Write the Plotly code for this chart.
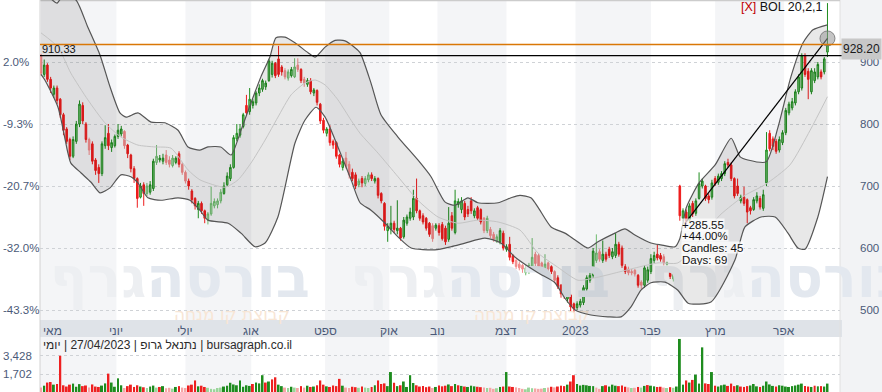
import plotly.graph_objects as go

# ---------------- data ----------------
open_ = [911, 880, 895, 872, 848, 858, 840, 815, 792, 775,
         748, 772, 800, 830, 800, 775, 768, 742, 730, 720,
         765, 785, 762, 765, 780, 784, 788, 766, 750, 728,
         712, 682, 702, 688, 690, 696, 738, 742, 740, 750,
         742, 733, 738, 752, 735, 722, 708, 692, 680, 662,
         672, 660, 645, 655, 668, 670, 676, 688, 702, 712,
         730, 776, 782, 796, 830, 820, 830, 834, 850, 856,
         860, 870, 880, 898, 905, 892, 886, 874, 878, 876,
         895, 888, 872, 864, 870, 850, 854, 832, 806, 785,
         792, 772, 770, 750, 730, 745, 735, 722, 718, 702,
         712, 704, 710, 718, 708, 712, 688, 672, 628, 630,
         640, 628, 632, 618, 640, 648, 650, 680, 660, 652,
         648, 640, 636, 632, 636, 638, 632, 614, 652, 625,
         670, 662, 672, 662, 676, 652, 665, 662, 648, 628,
         630, 622, 612, 610, 624, 598, 606, 588, 580, 574,
         572, 560, 562, 570, 590, 588, 576, 564, 576, 570,
         562, 552, 540, 532, 518, 524, 510, 504, 508, 512,
         534, 548, 556, 580, 594, 580, 590, 598, 586, 588,
         606, 600, 570, 566, 562, 564, 556, 545, 540, 548,
         562, 580, 590, 588, 586, 574, 562, 550, 556, 700,
         648, 658, 645, 672, 656, 680, 700, 700, 684, 682,
         712, 706, 712, 720, 738, 734, 712, 700, 676, 682,
         678, 665, 662, 676, 680, 664, 705, 785, 776, 772,
         758, 770, 786, 818, 826, 834, 852, 858, 910, 885,
         852, 870, 876, 884, 884, 916]
high = [913, 904, 898, 876, 862, 862, 842, 818, 795, 778,
        780, 805, 838, 835, 803, 778, 772, 745, 735, 772,
        798, 800, 775, 783, 800, 797, 790, 768, 752, 732,
        714, 705, 706, 705, 708, 744, 766, 750, 752, 758,
        748, 750, 748, 756, 738, 725, 712, 695, 682, 676,
        675, 662, 658, 699, 680, 680, 695, 706, 722, 735,
        782, 800, 800, 818, 847, 858, 840, 853, 864, 873,
        870, 905, 902, 900, 926, 895, 890, 888, 892, 906,
        906, 890, 876, 874, 874, 858, 856, 834, 810, 795,
        798, 775, 772, 752, 745, 755, 740, 728, 722, 712,
        716, 716, 722, 722, 716, 714, 690, 674, 640, 668,
        644, 677, 634, 650, 654, 665, 694, 712, 662, 656,
        650, 642, 640, 640, 640, 642, 636, 666, 658, 694,
        680, 682, 676, 668, 682, 664, 668, 664, 650, 652,
        634, 626, 622, 632, 628, 606, 618, 590, 582, 578,
        574, 572, 576, 616, 594, 592, 578, 590, 578, 572,
        564, 556, 542, 534, 528, 526, 512, 514, 518, 540,
        556, 560, 600, 622, 598, 612, 594, 602, 600, 624,
        610, 604, 574, 570, 566, 566, 558, 548, 572, 570,
        590, 594, 605, 592, 590, 578, 564, 564, 566, 702,
        664, 662, 672, 676, 680, 722, 712, 702, 688, 710,
        716, 720, 724, 740, 744, 738, 714, 712, 686, 699,
        680, 668, 682, 690, 684, 694, 787, 790, 780, 776,
        780, 790, 826, 836, 842, 856, 880, 914, 914, 890,
        890, 890, 900, 888, 908, 995]
low = [878, 876, 868, 850, 842, 832, 810, 782, 768, 742,
       745, 768, 795, 800, 770, 750, 735, 718, 705, 716,
       760, 758, 755, 762, 776, 780, 760, 745, 722, 705,
       665, 680, 668, 684, 686, 692, 734, 738, 735, 734,
       730, 730, 735, 730, 718, 704, 694, 672, 662, 648,
       655, 640, 638, 652, 664, 664, 672, 686, 700, 708,
       728, 772, 778, 793, 815, 815, 825, 830, 845, 852,
       855, 868, 875, 874, 876, 878, 872, 870, 875, 874,
       884, 866, 860, 860, 848, 845, 830, 800, 785, 780,
       765, 760, 744, 730, 725, 728, 712, 708, 695, 698,
       698, 700, 706, 708, 704, 680, 672, 628, 610, 622,
       624, 622, 612, 615, 636, 644, 645, 656, 644, 638,
       628, 618, 610, 628, 620, 612, 605, 610, 628, 622,
       665, 656, 645, 650, 655, 648, 645, 638, 624, 624,
       616, 610, 608, 606, 596, 594, 580, 574, 566, 564,
       560, 556, 558, 566, 570, 566, 564, 562, 562, 558,
       544, 534, 520, 518, 512, 498, 496, 500, 504, 508,
       530, 544, 552, 576, 578, 576, 578, 584, 582, 584,
       586, 568, 558, 556, 556, 554, 536, 534, 536, 544,
       558, 576, 580, 578, 572, 572, 550, 546, 552, 644,
       643, 638, 642, 650, 652, 678, 696, 676, 672, 678,
       700, 702, 708, 716, 730, 708, 680, 684, 672, 668,
       640, 654, 660, 672, 662, 660, 700, 756, 758, 752,
       754, 766, 782, 814, 822, 830, 848, 854, 876, 840,
       848, 866, 872, 872, 880, 908]
close = [882, 895, 872, 858, 858, 838, 815, 790, 772, 748,
         775, 800, 832, 805, 775, 758, 740, 725, 720, 768,
         778, 765, 770, 780, 790, 792, 765, 752, 728, 712,
         680, 700, 688, 700, 702, 740, 748, 745, 745, 738,
         735, 745, 745, 735, 722, 708, 700, 678, 668, 672,
         660, 648, 655, 672, 675, 676, 690, 700, 716, 730,
         778, 785, 792, 815, 818, 840, 836, 850, 858, 870,
         866, 902, 898, 878, 880, 884, 876, 884, 888, 892,
         888, 870, 866, 870, 852, 855, 835, 805, 790, 792,
         770, 766, 748, 735, 740, 732, 718, 712, 700, 708,
         705, 712, 718, 712, 712, 685, 676, 635, 635, 640,
         630, 632, 616, 645, 650, 658, 680, 660, 648, 642,
         632, 622, 615, 637, 625, 615, 610, 640, 632, 676,
         675, 676, 650, 655, 660, 660, 648, 642, 628, 648,
         620, 614, 618, 628, 600, 602, 585, 578, 570, 568,
         566, 568, 572, 585, 575, 570, 568, 574, 566, 562,
         548, 538, 526, 522, 524, 505, 502, 510, 514, 536,
         552, 556, 595, 592, 582, 590, 582, 588, 594, 606,
         590, 572, 562, 560, 560, 558, 540, 540, 568, 565,
         583, 588, 584, 582, 576, 576, 554, 560, 562, 652,
         660, 642.65, 668, 655, 676, 704, 708, 680, 678, 705,
         704, 716, 720, 736, 734, 712, 684, 688, 682, 672,
         658, 660, 678, 684, 666, 686, 758, 760, 764, 756,
         775, 786, 822, 832, 836, 852, 876, 910, 880, 872,
         886, 884, 896, 876, 905, 928.2]
volume = [420, 600, 900, 950, 700, 760, 3450, 640, 520, 700,
          800, 500, 750, 560, 620, 430, 720, 520, 480, 610,
          820, 1750, 900, 500, 1300, 640, 380, 560, 700, 480,
          640, 520, 450, 380, 520, 610, 420, 480, 560, 360,
          400, 320, 480, 560, 420, 380, 620, 700, 1100, 540,
          600, 480, 400, 300, 260, 380, 420, 520, 600, 880,
          720, 640, 1100, 500, 640, 580, 760, 900, 820, 1600,
          900, 1000, 1200, 1400, 700, 560, 420, 380, 500, 420,
          380, 560, 420, 600, 480, 520, 640, 1100, 700, 540,
          480, 620, 560, 1250, 600, 420, 380, 500, 460, 400,
          520, 420, 380, 480, 640, 1100, 760, 820, 560, 1900,
          880, 560, 640, 1000, 480, 1600, 860, 640, 520, 580,
          460, 520, 380, 480, 620, 540, 600, 720, 560, 760,
          640, 580, 520, 480, 600, 540, 500, 460, 420, 380,
          400, 300, 360, 480, 520, 1900, 520, 480, 440, 380,
          300, 260, 420, 360, 340, 300, 320, 380, 420, 500,
          440, 520, 600, 560, 700, 1000, 1600, 760, 620, 680,
          640, 580, 560, 420, 300, 560, 640, 520, 700, 600,
          560, 620, 500, 440, 380, 400, 480, 420, 580, 660,
          600, 540, 480, 500, 420, 380, 460, 400, 520, 5050,
          700, 1100, 900, 1150, 1650, 800, 4250, 820, 760, 1900,
          600, 520, 640, 700, 580, 800, 560, 640, 520, 480,
          560, 620, 760, 540, 480, 600, 1000, 720, 580, 520,
          640, 600, 520, 480, 560, 620, 700, 800, 560, 520,
          480, 600, 540, 560, 520, 800]

upper_idx = [0, 2.8, 5, 7, 10.9, 14.6, 18.4, 21.5, 24.6, 26.5, 30.2, 34.3, 38.6, 42.7, 45.8,
             49.5, 52, 56, 59.2, 62.3, 65.4, 68.5, 71.3, 73.2, 76, 79.1, 83.2, 85.4, 88.5, 91.6,
             94.7, 97.8, 99.4, 102.8, 105.9, 111.2, 117.4, 121.5, 125.9, 129, 133, 136.1, 142.4,
             146.4, 149.2, 152.6, 154.8, 158.9, 163.2, 166.4, 170.4, 173.5, 178.8, 181.9, 185,
             190, 193.1, 197.5, 199, 201, 205, 210, 215, 217.8, 220.2, 225.9, 229.6, 233.6,
             237.4, 240.5, 245]
upper_val = [1010, 1003, 995, 1008, 1000, 956, 911, 860, 818, 811, 818, 803, 802, 790, 763,
             758, 763, 763, 750, 790, 834, 876, 908, 939, 940, 931, 915, 908, 924, 935,
             934, 923, 915, 866, 815, 779, 742, 715, 674, 669, 681, 673, 673,
             681, 685, 681, 666, 634, 624, 613, 600, 610, 624, 631, 621,
             608, 605, 602, 615, 665, 705, 734, 777, 747, 742, 739, 795, 876,
             931, 952, 960]
lower_idx = [0, 1.2, 5.3, 8.4, 9.3, 12.5, 15.6, 18.4, 21.5, 24.9, 28, 30.2, 33.3, 37.4, 42.7,
             46.4, 49.5, 52, 58.3, 62.3, 66.7, 69.8, 73.8, 79.1, 82.2, 85.7, 88.5, 92.5, 96.6,
             99.4, 102.8, 107.2, 111.2, 115.3, 122.7, 127.7, 132.1, 138.3, 143.3, 147.7, 154.8,
             160.1, 163.2, 166.4, 171.3, 176.6, 180.7, 183.8, 186.9, 190, 194.4, 198.4, 201.6,
             208.7, 216.2, 219.3, 224.3, 228.7, 232.7, 235.8, 238, 242, 245]
lower_val = [880, 871, 827, 753, 737, 721, 706, 689, 697, 718, 715, 705, 681, 677, 681,
             677, 661, 645, 640, 624, 602, 608, 650, 769, 806, 827, 811, 763, 710,
             673, 661, 640, 618, 600, 597, 602, 608, 616, 608, 585, 560,
             544, 519, 500, 492, 489, 489, 505, 532, 544, 545, 532, 511,
             513, 581, 634, 650, 650, 624, 600, 598, 650, 715]
mid_idx = [0, 5.3, 9.3, 14.6, 19.9, 24.9, 30.2, 35.5, 40.5, 45.8, 49.5, 57.3, 61.4, 65.4, 69.8,
           73.8, 77.9, 82.2, 85.4, 88.5, 92.5, 96.6, 99.4, 105, 111.2, 117.4, 123.7, 129.9,
           136.1, 142.4, 149.2, 154.8, 161, 167.3, 173.5, 179.8, 186, 192.2, 198.4, 205.3,
           211.5, 219.3, 225.5, 233.3, 239.6, 245]
mid_val = [947, 924, 882, 839, 802, 779, 766, 763, 761, 726, 710, 698, 710, 737, 774,
           811, 847, 866, 871, 863, 839, 806, 785, 753, 715, 677, 650, 640,
           645, 642, 629, 592, 569, 548, 553, 561, 569, 576, 576, 613,
           653, 685, 702, 734, 790, 844]

month_pos = [0, 23.5, 45, 65.5, 88.5, 108.5, 123.5, 145, 166.5, 190, 210, 231.5]
month_labels = ['מאי', 'יוני', 'יולי', 'אוג', 'ספט', 'אוק', 'נוב', 'דצמ', '2023', 'פבר', 'מרץ', 'אפר']

grid_prices = [900, 800, 700, 600, 500]
pct_labels = ['2.0%', '-9.3%', '-20.7%', '-32.0%', '-43.3%']
price_labels = ['900', '800', '700', '600', '500']
vol_ticks = [3428, 1702]
vol_tick_labels = ['3,428', '1,702']

last_price = 928.20
ref_price = 910.33
measure_x = [201, 245]
measure_y = [642.65, 938]
measure_text = ['+285.55', '+44.00%', 'Candles: 45', 'Days: 69']
indicator_label = 'BOL 20,2,1'
caption = 'יומי\u200e | 27/04/2023 | נתנאל גרופ\u200e | bursagraph.co.il'

# ---------------- layout constants ----------------
W, H = 882, 392
PL, PR = 40, 840
X0, X1 = -0.31, 248.9
P_LO, P_HI = 483.9, 1000
V_HI = 5236
FONT = 'Liberation Sans, Arial, sans-serif'
AXC = '#4b5a78'


def px(x):
    return x / W


def py(y):
    return 1 - y / H


n = len(close)
idx = list(range(n))

fig = go.Figure()

# watermark (drawn first -> under everything)
wm_x = [32.8, 126.3, 219.8]
wm_sub_x = [77.5, 171, 264.5]
fig.add_trace(go.Scatter(x=wm_x, y=[543] * 3, mode='text', text=['<b>בורסה</b>'] * 3,
                         textposition='middle right', cliponaxis=False, hoverinfo='skip',
                         textfont=dict(family='DejaVu Sans', size=56, color='#e3e8ef')))
fig.add_trace(go.Scatter(x=wm_x, y=[543] * 3, mode='text', text=['<b>גרף</b>'] * 3,
                         textposition='middle left', cliponaxis=False, hoverinfo='skip',
                         textfont=dict(family='DejaVu Sans', size=56, color='#edeff2')))
fig.add_trace(go.Scatter(x=wm_sub_x, y=[490.5] * 3, mode='text', text=['קבוצת קו מנחה'] * 3,
                         textposition='middle left', cliponaxis=False, hoverinfo='skip',
                         textfont=dict(family='DejaVu Sans', size=17, color='#f8e6d5')))

# Bollinger bands
fig.add_trace(go.Scatter(x=upper_idx, y=upper_val, mode='lines', hoverinfo='skip',
                         line=dict(color='#555555', width=1.2, shape='spline', smoothing=0.6)))
fig.add_trace(go.Scatter(x=lower_idx, y=lower_val, mode='lines', hoverinfo='skip',
                         fill='tonexty', fillcolor='rgba(0,0,0,0.09)',
                         line=dict(color='#555555', width=1.2, shape='spline', smoothing=0.6)))
fig.add_trace(go.Scatter(x=mid_idx, y=mid_val, mode='lines', hoverinfo='skip',
                         line=dict(color='#c4c4c4', width=1, shape='spline', smoothing=0.6)))

# candles, split by direction and volume strength
styles = {
    (True, False): ('#1e8c1e', '#7cc77c'),
    (True, True): ('#6dbb6d', '#b6e0b6'),
    (False, False): ('#ee1c1c', '#ee1c1c'),
    (False, True): ('#f28a8a', '#f28a8a'),
}
for (up, light), (lc, fc) in styles.items():
    ii = [i for i in idx if (close[i] >= open_[i]) == up and (volume[i] < 450) == light]
    if not ii:
        continue
    side = dict(line=dict(color=lc, width=1), fillcolor=fc)
    fig.add_trace(go.Candlestick(x=ii, open=[open_[i] for i in ii], high=[high[i] for i in ii],
                                 low=[low[i] for i in ii], close=[close[i] for i in ii],
                                 increasing=side, decreasing=side, whiskerwidth=0,
                                 hoverinfo='skip'))

# volume
vcol = []
for i in idx:
    prev = close[i - 1] if i > 0 else open_[i]
    upv = close[i] >= prev
    light = volume[i] < 450
    if upv:
        vcol.append('#9ad59a' if light else '#1e8c1e')
    else:
        vcol.append('#f6a5a5' if light else '#ee2020')
fig.add_trace(go.Bar(x=idx, y=volume, marker=dict(color=vcol, line=dict(width=0)), width=0.62,
                     xaxis='x2', yaxis='y2', hoverinfo='skip'))

# measurement line + end circle
fig.add_trace(go.Scatter(x=measure_x, y=measure_y, mode='lines', hoverinfo='skip',
                         line=dict(color='#000000', width=1.2)))
fig.add_trace(go.Scatter(x=[measure_x[1]], y=[measure_y[1]], mode='markers', hoverinfo='skip',
                         cliponaxis=False,
                         marker=dict(size=15, color='rgba(150,150,150,0.55)',
                                     line=dict(color='rgba(110,110,110,0.8)', width=1))))

# ---------------- shapes ----------------
shapes = []
for k in range(0, len(month_pos), 2):
    x0 = X0 if k == 0 else month_pos[k]
    x1 = month_pos[k + 1] if k + 1 < len(month_pos) else X1
    shapes.append(dict(type='rect', xref='x', yref='paper', x0=x0, x1=x1, y0=0, y1=1,
                       fillcolor='#f4f5f7', line=dict(width=0), layer='below'))
shapes.append(dict(type='rect', xref='paper', yref='paper', x0=px(PR), x1=1, y0=0, y1=1,
                   fillcolor='#f2f3f5', line=dict(width=0), layer='below'))
shapes.append(dict(type='rect', xref='paper', yref='paper', x0=px(PL), x1=px(842),
                   y0=py(337), y1=py(320), fillcolor='#dfe3e8', line=dict(width=0), layer='below'))
shapes.append(dict(type='line', xref='paper', yref='paper', x0=px(PL), x1=px(PL), y0=0, y1=1,
                   line=dict(color='#d2d2d2', width=1), layer='below'))
shapes.append(dict(type='line', xref='paper', yref='paper', x0=px(PR), x1=px(PR), y0=0, y1=1,
                   line=dict(color='#e0e0e0', width=1), layer='below'))
shapes.append(dict(type='line', xref='paper', yref='paper', x0=px(PL), x1=px(PR), y0=py(0.5), y1=py(0.5),
                   line=dict(color='#cccccc', width=1.5), layer='below'))
shapes.append(dict(type='line', xref='paper', yref='y', x0=px(PL), x1=px(842), y0=last_price, y1=last_price,
                   line=dict(color='#d97706', width=1.3), layer='above'))
shapes.append(dict(type='line', xref='paper', yref='y', x0=px(PL), x1=px(842), y0=ref_price, y1=ref_price,
                   line=dict(color='#000000', width=1.3), layer='above'))

# ---------------- annotations ----------------
ann = []


def txt(text, x, y, xanchor='left', size=11.5, color=AXC, yref='paper', xref='paper', **kw):
    ann.append(dict(text=text, x=x, y=y, xref=xref, yref=yref, xanchor=xanchor, yanchor='middle',
                    showarrow=False, font=dict(family=FONT, size=size, color=color), **kw))


for p, lab in zip(grid_prices, pct_labels):
    txt(lab, px(1), p, yref='y', size=11.5)
for p, lab in zip(grid_prices, price_labels):
    txt(lab, px(881), p, xanchor='right', yref='y', size=11.5)
for v, lab in zip(vol_ticks, vol_tick_labels):
    txt(lab, px(1), v, yref='y2', size=11.5)
for k, (pos, lab) in enumerate(zip(month_pos, month_labels)):
    txt(lab, pos if k else 0.0, py(331), xanchor='center' if k else 'left', xref='x', size=12)
txt(caption, px(41), py(344.5), size=12, color='#2b2b2b')
txt(str(ref_price), px(40), py(49), size=11, color='#111111')
txt(f'{last_price:.2f}', px(882), py(49), xanchor='right', size=12, color='#1a1a1a',
    bgcolor='#c8c8c8', width=39, height=20, borderpad=0, align='center')
txt(f"<span style='color:#c00000'>[X]</span> {indicator_label}", px(739), py(7), size=12.5, color='#111111')
for k, t in enumerate(measure_text):
    txt(t, px(681), py(224 + 11.7 * k), size=11.5, color='#111111',
        bgcolor='rgba(255,255,255,0.72)', borderpad=0, height=11, valign='middle')

fig.update_layout(
    width=W, height=H, margin=dict(l=0, r=0, t=0, b=0),
    paper_bgcolor='white', plot_bgcolor='rgba(0,0,0,0)',
    showlegend=False, hovermode=False,
    xaxis=dict(domain=[px(PL), px(PR)], range=[X0, X1], anchor='y', showticklabels=False,
               showgrid=False, zeroline=False, rangeslider=dict(visible=False), showline=False),
    yaxis=dict(domain=[py(320), 1], range=[P_LO, P_HI], anchor='x', tickvals=grid_prices,
               showticklabels=False, showgrid=True, gridcolor='#cfd2d6', griddash='dot',
               gridwidth=1, zeroline=False),
    xaxis2=dict(domain=[px(PL), px(PR)], range=[X0, X1], anchor='y2', showticklabels=False,
                showgrid=False, zeroline=False),
    yaxis2=dict(domain=[0, py(337)], range=[0, V_HI], anchor='x2', tickvals=vol_ticks,
                showticklabels=False, showgrid=True, gridcolor='#cfd2d6', griddash='dot',
                gridwidth=1, zeroline=False),
    shapes=shapes, annotations=ann,
)

fig.write_html('out.html', config={'displayModeBar': False})
